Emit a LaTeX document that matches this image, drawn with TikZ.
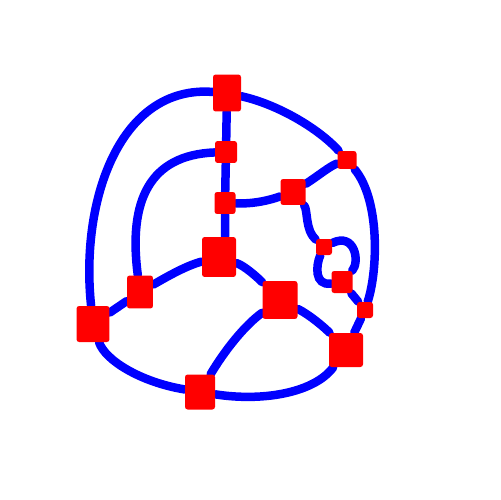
\documentclass[tikz,border=0pt]{standalone}
\usetikzlibrary{backgrounds}

\begin{document}
\begin{tikzpicture}[
  x=0.02cm, y=-0.02cm,
  wire/.style={draw=blue, line width=0.17cm, line cap=round},
  vtx/.style 2 args={fill=red, inner sep=0pt, rounded corners=1.5pt,
                     minimum width=#1, minimum height=#2}]
\useasboundingbox (0,0) rectangle (500,500);
% vertices
\node[vtx={0.56cm}{0.74cm}] (top)  at (227,93)  {};
\node[vtx={0.44cm}{0.44cm}] (up)   at (226,152) {};
\node[vtx={0.42cm}{0.44cm}] (mid)  at (225,203) {};
\node[vtx={0.68cm}{0.80cm}] (hub)  at (219,257) {};
\node[vtx={0.52cm}{0.66cm}] (lft)  at (140,292) {};
\node[vtx={0.66cm}{0.72cm}] (far)  at (93,324)  {};
\node[vtx={0.60cm}{0.70cm}] (bot)  at (200,392) {};
\node[vtx={0.70cm}{0.76cm}] (ctr)  at (280,300) {};
\node[vtx={0.68cm}{0.68cm}] (se)   at (346,350) {};
\node[vtx={0.38cm}{0.36cm}] (ne)   at (347,160) {};
\node[vtx={0.50cm}{0.52cm}] (knot) at (293,192) {};
\node[vtx={0.32cm}{0.32cm}] (lpa)  at (324,247) {};
\node[vtx={0.42cm}{0.44cm}] (lpb)  at (342,282) {};
\node[vtx={0.32cm}{0.32cm}] (rim)  at (365,310) {};
% edges
\begin{pgfonlayer}{background}
\draw[wire] (top) -- (up) -- (mid) -- (mid |- hub.north);
\draw[wire] (top) .. controls (120,85) and (80,200) .. (far);
\draw[wire] (top) .. controls (280,105) and (320,130) .. (ne);
\draw[wire] (up) .. controls (150,155) and (128,200) .. (lft);
\draw[wire] (mid) .. controls (255,204) and (270,200) .. (knot);
\draw[wire] (knot) .. controls (318,176) and (330,166) .. (ne);
\draw[wire] (ne) .. controls (380,200) and (378,270) .. (rim);
\draw[wire] (rim) -- (se);
\draw[wire] (knot) .. controls (308,210) and (305,230) .. (lpa);
\draw[wire] (lpa) .. controls (355,232) and (360,262) .. (lpb);
\draw[wire] (lpa) .. controls (316,265) and (314,286) .. (lpb);
\draw[wire] (lpb) -- (rim);
\draw[wire] (hub) .. controls (185,266) and (165,278) .. (lft);
\draw[wire] (lft) -- (far);
\draw[wire] (hub) .. controls (245,266) and (258,278) .. (ctr);
\draw[wire] (far) .. controls (105,360) and (140,382) .. (bot);
\draw[wire] (bot) .. controls (225,350) and (245,325) .. (ctr);
\draw[wire] (ctr) .. controls (310,315) and (325,328) .. (se);
\draw[wire] (bot) .. controls (265,402) and (315,392) .. (se);
\end{pgfonlayer}
\end{tikzpicture}
\end{document}
